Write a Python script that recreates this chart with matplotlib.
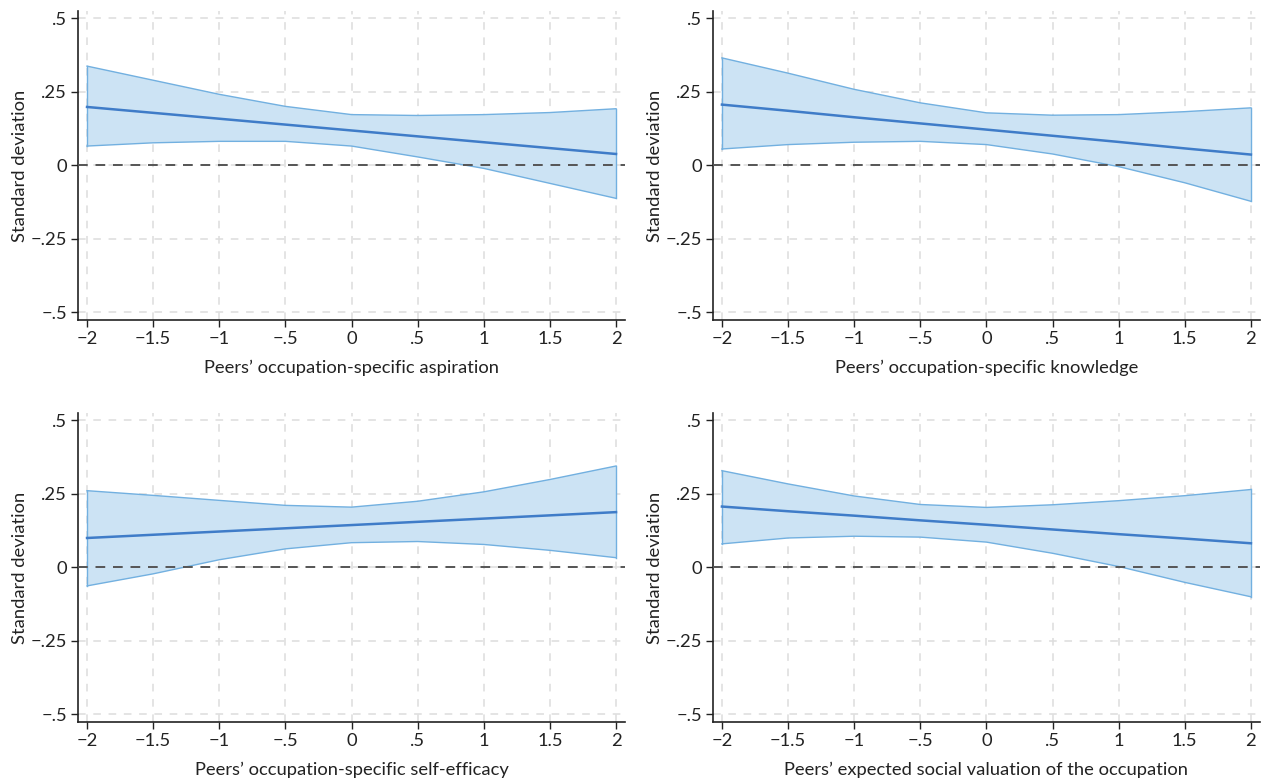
import numpy as np
import matplotlib
matplotlib.use("Agg")
import matplotlib.pyplot as plt
from matplotlib.ticker import FixedLocator, FixedFormatter

plt.rcParams['font.family'] = ['Lato', 'DejaVu Sans']

# x grid of the margins
x_vals = [-2, -1.5, -1, -0.5, 0, 0.5, 1, 1.5, 2]

# panel 1: aspiration
asp_mean = [0.198, 0.178, 0.158, 0.138, 0.118, 0.098, 0.078, 0.058, 0.038]
asp_hi = [0.337, 0.289, 0.241, 0.200, 0.172, 0.169, 0.172, 0.179, 0.192]
asp_lo = [0.065, 0.076, 0.081, 0.081, 0.065, 0.028, -0.011, -0.062, -0.113]

# panel 2: knowledge
kno_mean = [0.206, 0.185, 0.163, 0.142, 0.121, 0.100, 0.079, 0.057, 0.036]
kno_hi = [0.365, 0.313, 0.258, 0.212, 0.178, 0.170, 0.172, 0.182, 0.195]
kno_lo = [0.055, 0.070, 0.078, 0.081, 0.070, 0.038, -0.005, -0.060, -0.123]

# panel 3: self-efficacy
eff_mean = [0.099, 0.110, 0.121, 0.132, 0.143, 0.154, 0.165, 0.176, 0.187]
eff_hi = [0.260, 0.244, 0.227, 0.210, 0.204, 0.224, 0.256, 0.298, 0.344]
eff_lo = [-0.064, -0.023, 0.025, 0.062, 0.083, 0.087, 0.077, 0.057, 0.032]

# panel 4: social valuation
soc_mean = [0.206, 0.190, 0.175, 0.159, 0.144, 0.128, 0.112, 0.097, 0.081]
soc_hi = [0.328, 0.283, 0.242, 0.213, 0.203, 0.212, 0.226, 0.243, 0.264]
soc_lo = [0.079, 0.099, 0.105, 0.102, 0.085, 0.047, 0.002, -0.052, -0.101]

x_labels = ["Peers\u2019 occupation-specific aspiration",
            "Peers\u2019 occupation-specific knowledge",
            "Peers\u2019 occupation-specific self-efficacy",
            "Peers\u2019 expected social valuation of the occupation"]

x_ticks = [-2, -1.5, -1, -0.5, 0, 0.5, 1, 1.5, 2]
x_ticklabels = ["\u22122", "\u22121.5", "\u22121", "\u2212.5", "0", ".5", "1", "1.5", "2"]
y_ticks = [-0.5, -0.25, 0, 0.25, 0.5]
y_ticklabels = ["\u2212.5", "\u2212.25", "0", ".25", ".5"]

panels = [(asp_mean, asp_hi, asp_lo), (kno_mean, kno_hi, kno_lo),
          (eff_mean, eff_hi, eff_lo), (soc_mean, soc_hi, soc_lo)]

fig = plt.figure(figsize=(12.67, 7.8), dpi=100)

positions = [(0.0616, 0.5897), (0.5627, 0.5897), (0.0616, 0.0744), (0.5627, 0.0744)]
W, H = 0.4317, 0.396

for i, ((m, hi, lo), (l, b)) in enumerate(zip(panels, positions)):
    ax = fig.add_axes([l, b, W, H])
    ax.fill_between(x_vals, lo, hi, facecolor='#cce3f4', edgecolor='none', zorder=2)
    ax.plot(x_vals, hi, color='#72b0e0', lw=1, zorder=3)
    ax.plot(x_vals, lo, color='#72b0e0', lw=1, zorder=3)
    ax.plot([x_vals[0], x_vals[0]], [lo[0], hi[0]], color='#72b0e0', lw=1, zorder=3)
    ax.plot([x_vals[-1], x_vals[-1]], [lo[-1], hi[-1]], color='#72b0e0', lw=1, zorder=3)
    ax.plot(x_vals, m, color='#3f7cc8', lw=1.8, zorder=4)
    ax.axhline(0, color='#555555', lw=1.4, ls=(0, (5, 4)), zorder=5)

    ax.set_xlim(-2.068, 2.068)
    ax.set_ylim(-0.527, 0.524)
    ax.xaxis.set_major_locator(FixedLocator(x_ticks))
    ax.xaxis.set_major_formatter(FixedFormatter(x_ticklabels))
    ax.yaxis.set_major_locator(FixedLocator(y_ticks))
    ax.yaxis.set_major_formatter(FixedFormatter(y_ticklabels))
    ax.grid(True, color='#dddddd', lw=1.1, ls=(0, (5, 5)), zorder=0)
    ax.set_axisbelow(True)
    for s in ['top', 'right']:
        ax.spines[s].set_visible(False)
    for s in ['left', 'bottom']:
        ax.spines[s].set_color('#222222')
        ax.spines[s].set_linewidth(1.2)
    ax.tick_params(direction='out', length=5, width=1, colors='#222222',
                   labelsize=13.2, pad=3)
    ax.set_xlabel(x_labels[i], fontsize=13.2, color='#222222', labelpad=9)
    ax.set_ylabel("Standard deviation", fontsize=13.2, color='#222222', labelpad=2)

fig.savefig("out.png", dpi=100)
